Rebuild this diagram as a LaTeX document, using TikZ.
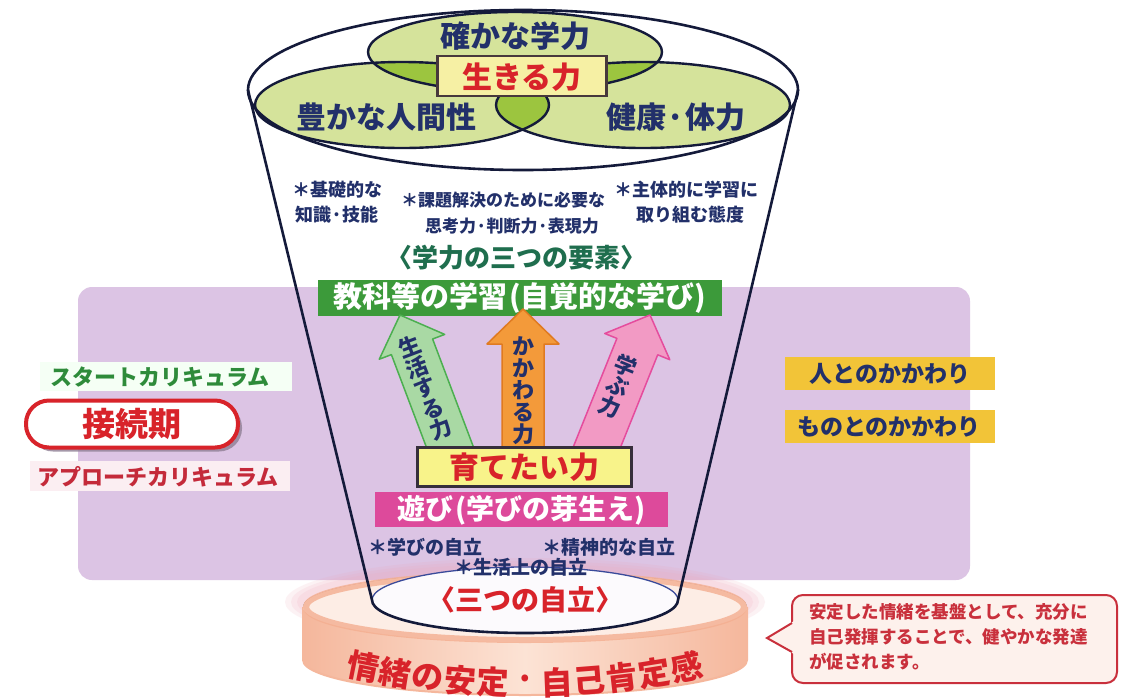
\documentclass[tikz,border=0pt]{standalone}
\usepackage{fontspec}
\setmainfont{Noto Sans CJK JP}
\usetikzlibrary{shadows}
\definecolor{navy}{HTML}{22306A}
\definecolor{cupline}{HTML}{141A3A}
\definecolor{purplebg}{HTML}{DCC4E4}
\definecolor{lgreen}{HTML}{D5E39B}
\definecolor{dgreen}{HTML}{9CC53F}
\definecolor{boxyellow}{HTML}{F6F0A4}
\definecolor{redtxt}{HTML}{D8232A}
\definecolor{greenbox}{HTML}{3C9A3A}
\definecolor{tealtxt}{HTML}{1F6E4E}
\definecolor{ylwbox}{HTML}{F8F38A}
\definecolor{magbox}{HTML}{DD4A9B}
\definecolor{arrG}{HTML}{A9D9A4}
\definecolor{arrGe}{HTML}{4CAF50}
\definecolor{arrO}{HTML}{F39A3A}
\definecolor{arrOe}{HTML}{E07A20}
\definecolor{arrP}{HTML}{F29AC4}
\definecolor{arrPe}{HTML}{E54C9D}
\definecolor{gold}{HTML}{F2C438}
\definecolor{startgreen}{HTML}{2E8B3A}
\definecolor{apred}{HTML}{C42A3A}
\definecolor{appink}{HTML}{FBEEF2}
\definecolor{dEdge}{HTML}{F5B79C}
\definecolor{dSide}{HTML}{FCE3D5}
\definecolor{dTop}{HTML}{FDEDE5}
\definecolor{dRim}{HTML}{F4AE90}
\definecolor{glow}{HTML}{F0A8B8}
\definecolor{callred}{HTML}{C9303C}
\definecolor{callfill}{HTML}{FDF1EC}
\definecolor{bluerim}{HTML}{3A4A9A}
\newcommand\jfs[1]{\fontsize{#1}{#1}\selectfont}
\begin{document}
\begin{tikzpicture}[x=1pt,y=-1pt,
  cupstroke/.style={draw=cupline,line width=2.6pt},
  ell/.style={draw=cupline,line width=2.4pt},
  navytxt/.style={text=navy,font=\bfseries\jfs{#1},inner sep=0pt},
  smalltxt/.style={text=navy,font=\bfseries\fontsize{18}{25}\selectfont,align=center,inner sep=0pt},
  vtxt/.style={text=navy,font=\bfseries\fontsize{22}{22}\selectfont,align=center,inner sep=0pt},
  redlbl/.style={text=redtxt,font=\bfseries\jfs{#1},inner sep=0pt},
  whitelbl/.style={text=white,font=\bfseries\jfs{#1},inner sep=0pt},
  goldrect/.style={fill=gold},
]
\useasboundingbox (0,0) rectangle (1121,697);
\fill[white] (0,0) rectangle (1121,697);

% purple band
\fill[purplebg,rounded corners=14] (78,287) rectangle (970,580);

% left labels
\fill[white!96!green] (40,362) rectangle (292,391);
\fill[appink] (30,461) rectangle (290,491);
\node[text=startgreen,font=\bfseries\jfs{22},inner sep=0pt] (start) at (160,377) {スタートカリキュラム};
\node[draw=redtxt,line width=4pt,fill=white,rounded corners=23,minimum width=212pt,minimum height=47pt,
  drop shadow={shadow xshift=4pt,shadow yshift=-4pt,fill=black!35!purplebg,opacity=.8},
  text=redtxt,font=\bfseries\jfs{33}] (setsu) at (132,424) {接続期};
\node[text=apred,font=\bfseries\jfs{22},inner sep=0pt] (appr) at (158,477) {アプローチカリキュラム};

% right labels
\fill[goldrect] (785,357) rectangle (995,390);
\fill[goldrect] (785,410) rectangle (995,443);
\node[navytxt=23] (hito) at (890,374) {人とのかかわり};
\node[navytxt=23] (mono) at (889,427) {ものとのかかわり};

% disk
\foreach \r/\s in {240/44,234/41,228/38}{
  \fill[glow,opacity=.15] (525,602) ellipse[x radius=\r,y radius=\s];
}
\fill[left color=dEdge,right color=dEdge,middle color=dSide]
  (303,607) -- (303,660) arc[start angle=180,end angle=0,x radius=222,y radius=35]
  -- (747,607) arc[start angle=0,end angle=-180,x radius=222,y radius=35] -- cycle;
\draw[dEdge,line width=2pt]
  (303,607) -- (303,660) arc[start angle=180,end angle=0,x radius=222,y radius=35] -- (747,607);
\fill[dTop] (525,607) ellipse[x radius=222,y radius=35];
\draw[dRim,line width=6pt,opacity=.8] (525,607) ellipse[x radius=219,y radius=33];
\foreach \c [count=\i from -5] in {情,緒,の,安,定,·,自,己,肯,定,感}{
  \node[redlbl=32,rotate=\i*2.27] (d\i) at ({525+820*sin(\i*2.27)},{-137+820*cos(\i*2.27)}) {\c};
}

% green ellipses
\fill[lgreen] (515,52) ellipse[x radius=147,y radius=40];
\fill[lgreen] (402,105) ellipse[x radius=147,y radius=43];
\fill[lgreen] (643,105) ellipse[x radius=147,y radius=43];
\begin{scope}
  \clip (515,52) ellipse[x radius=147,y radius=40];
  \fill[dgreen] (402,105) ellipse[x radius=147,y radius=43];
  \fill[dgreen] (643,105) ellipse[x radius=147,y radius=43];
\end{scope}
\begin{scope}
  \clip (402,105) ellipse[x radius=147,y radius=43];
  \fill[dgreen] (643,105) ellipse[x radius=147,y radius=43];
\end{scope}
\draw[ell] (515,52) ellipse[x radius=147,y radius=40];
\draw[ell] (402,105) ellipse[x radius=147,y radius=43];
\draw[ell] (643,105) ellipse[x radius=147,y radius=43];

% cup
\draw[cupstroke] (523,90) ellipse[x radius=275,y radius=80];
\fill[white!92!purplebg] (525,600) ellipse[x radius=153,y radius=33];
\draw[bluerim,line width=1.3pt] (372,600) arc[start angle=180,end angle=360,x radius=153,y radius=33];
\draw[cupstroke,line join=round] (248,90) -- (372,600) arc[start angle=180,end angle=0,x radius=153,y radius=33] -- (798,90);

% top labels
\node[draw=cupline!70!brown,line width=2.5pt,fill=boxyellow,minimum width=169pt,minimum height=40pt,inner sep=0pt] (ikiru) at (522,76) {};
\node[redlbl=30] (ikirut) at (522,77) {生きる力};
\node[navytxt=30] (gaku) at (515,36) {確かな学力};
\node[navytxt=30] (ningen) at (386,117) {豊かな人間性};
\node[navytxt=30] (kenko) at (676,117) {健康·体力};

% three elements
\node[smalltxt] (kiso) at (337,202) {＊基礎的な\\知識·技能};
\node[smalltxt,font=\bfseries\fontsize{17}{26}\selectfont] (kadai) at (503,213) {＊課題解決のために必要な\\\hspace*{18pt}思考力·判断力·表現力};
\node[smalltxt] (shutai) at (686,202) {＊主体的に学習に\\\hspace*{8pt}取り組む態度};
\node[text=tealtxt,font=\bfseries\jfs{26},inner sep=0pt] (yoso) at (516,258) {〈学力の三つの要素〉};

% green box
\node[fill=greenbox,minimum width=404pt,minimum height=36pt,inner sep=0pt] (kyoka) at (520,298) {};
\node[whitelbl=29] (kyokat) at (520,298) {教科等の学習\kern2pt(自覚的な学び)};

% arrows
\draw[fill=arrG,draw=arrGe,line width=1.5pt,line join=round]
  (400,315) -- (379.3,359.2) -- (391.4,354.6) -- (434.2,467.8) -- (475.4,452.2) -- (432.6,339.0) -- (444.7,334.4) -- cycle;
\draw[fill=arrO,draw=arrOe,line width=1.5pt,line join=round]
  (523,309) -- (487,344) -- (502,344) -- (502,465) -- (544,465) -- (544,344) -- (559,344) -- cycle;
\draw[fill=arrP,draw=arrPe,line width=1.5pt,line join=round]
  (650,315) -- (669.8,359.7) -- (657.7,354.8) -- (612.1,468.2) -- (571.3,451.8) -- (616.9,338.4) -- (604.8,333.5) -- cycle;
\node[vtxt,rotate=20.7] (seikatsu) at (425,388) {生\\活\\す\\る\\力};
\node[vtxt] (kakawaru) at (523,391) {か\\か\\わ\\る\\力};
\node[vtxt,rotate=-21.9] (manabu) at (618,386) {学\\ぶ\\力};

% yellow and magenta boxes
\node[draw=cupline!80!brown,line width=3pt,fill=ylwbox,minimum width=214pt,minimum height=39pt,inner sep=0pt] (sodate) at (524.5,467) {};
\node[redlbl=30] (sodatet) at (524.5,467) {育てたい力};
\node[fill=magbox,minimum width=293pt,minimum height=35pt,inner sep=0pt] (asobi) at (521.5,509.5) {};
\node[whitelbl=28] (asobit) at (521.5,510) {遊び\kern2pt(学びの芽生え)};

% three independences
\node[navytxt=19] (jiritsu1) at (425,547) {＊学びの自立};
\node[navytxt=19] (jiritsu2) at (609,547) {＊精神的な自立};
\node[navytxt=19] (jiritsu3) at (521,567) {＊生活上の自立};
\node[redlbl=28] (mittsu) at (525,600) {〈三つの自立〉};

% callout
\draw[callred,line width=2pt,fill=callfill,rounded corners=11] (792,595) rectangle (1117,683);
\fill[callfill] (794,621) -- (766,638) -- (794,654) -- cycle;
\draw[callred,line width=2pt,line join=miter] (792,623) -- (767,638) -- (792,652);
\node[anchor=west,text=callred,font=\bfseries\fontsize{17.5}{25}\selectfont,align=left,inner sep=0pt] (calltxt) at (809,637)
  {安定した情緒を基盤として、充分に\\自己発揮することで、健やかな発達\\が促されます。};
\end{tikzpicture}
\end{document}
